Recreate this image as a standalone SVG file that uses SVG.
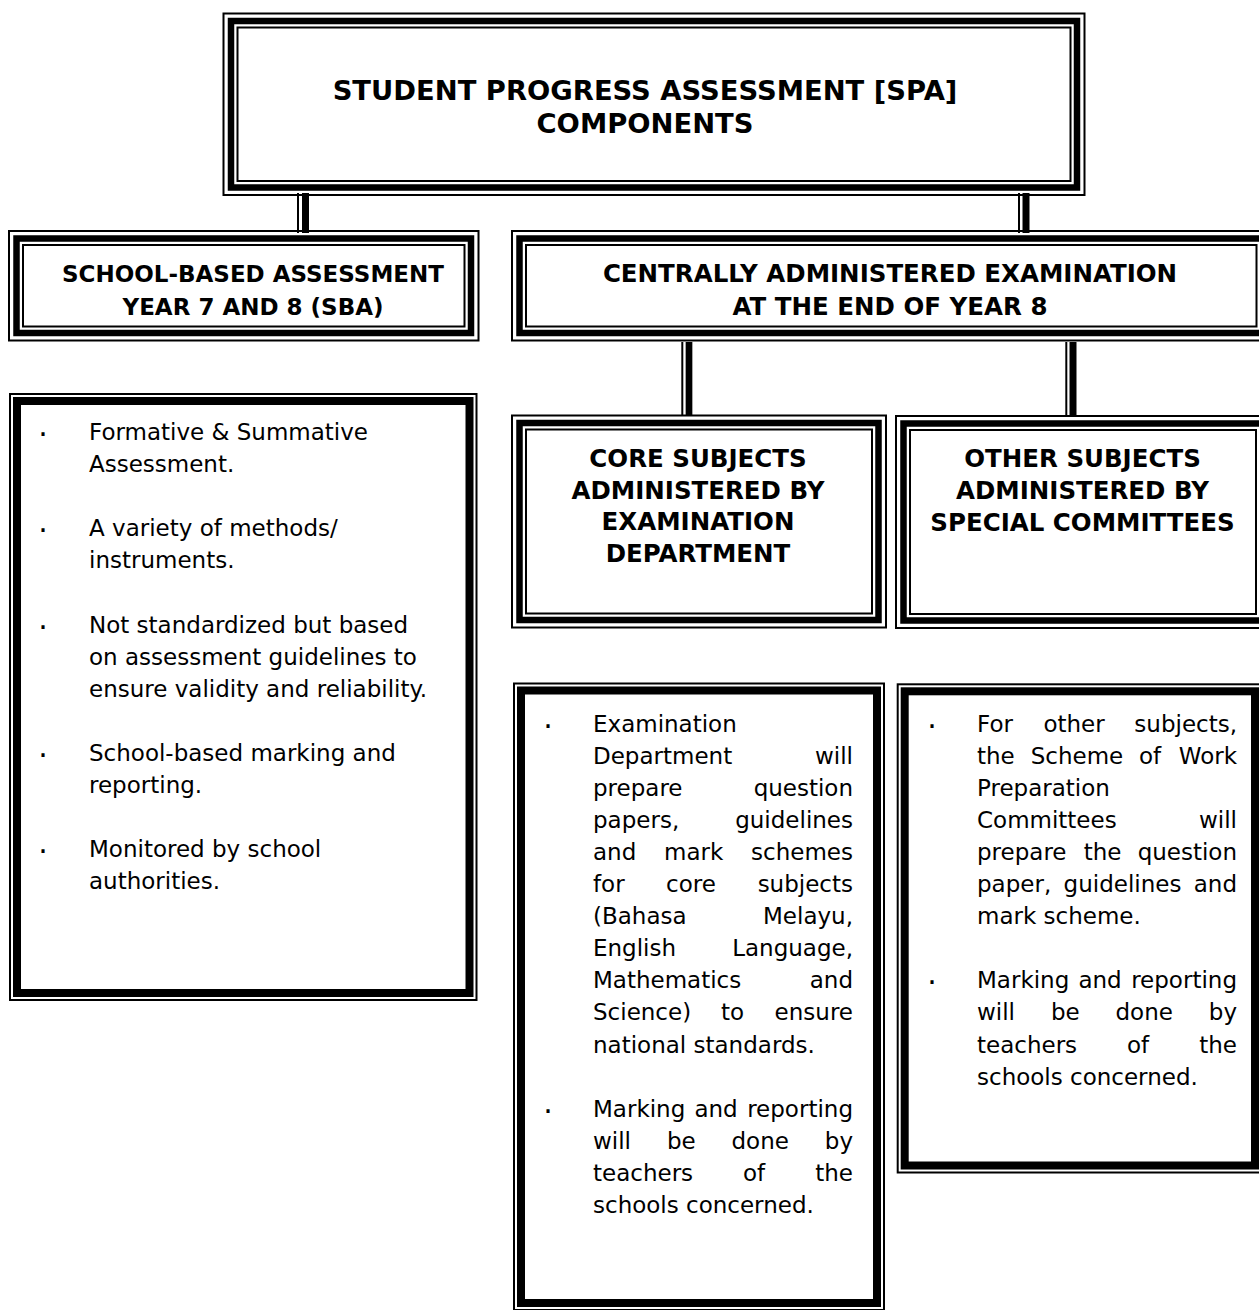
<svg xmlns="http://www.w3.org/2000/svg" width="1259" height="1310" viewBox="0 0 1259 1310">
<style>
.bg{fill:#fff}
.t1{fill:none;stroke:#000;stroke-width:2}
.tk{fill:none;stroke:#000;stroke-width:6.5}
.bk{fill:none;stroke:#000;stroke-width:8}
.cn{stroke:#000;fill:none}
.b{font-family:"DejaVu Sans",Verdana,sans-serif;font-size:23px;fill:#000}
.r{text-anchor:end}
.d{font-family:"DejaVu Sans",Verdana,sans-serif;font-size:30px;fill:#000;text-anchor:middle}
.h{font-family:"DejaVu Sans",Verdana,sans-serif;font-weight:bold;fill:#000;text-anchor:middle}
.h1{font-size:27.4px}
.h2a{font-size:23px}
.h2b{font-size:24.5px}
.h3{font-size:24.5px}
</style>
<rect class="bg" x="0" y="0" width="1259" height="1310"/>

<g id="connectors">
  <line class="cn" stroke-width="2" x1="298" y1="193" x2="298" y2="233"/>
  <line class="cn" stroke-width="7" x1="305.5" y1="193" x2="305.5" y2="233"/>
  <line class="cn" stroke-width="2" x1="1019" y1="193" x2="1019" y2="233"/>
  <line class="cn" stroke-width="7" x1="1026" y1="193" x2="1026" y2="233"/>
  <line class="cn" stroke-width="2" x1="682.3" y1="342" x2="682.3" y2="416"/>
  <line class="cn" stroke-width="6.7" x1="689" y1="342" x2="689" y2="416"/>
  <line class="cn" stroke-width="2" x1="1066.3" y1="342" x2="1066.3" y2="416"/>
  <line class="cn" stroke-width="7" x1="1073" y1="342" x2="1073" y2="416"/>
</g>

<g id="spa">
  <rect class="t1" x="223.5" y="13.5" width="861" height="181.5"/>
  <rect class="tk" x="231" y="21" width="846" height="166.5"/>
  <rect class="t1" x="237.5" y="27.5" width="833" height="153.5"/>
  <text class="h h1" x="645" y="100">STUDENT PROGRESS ASSESSMENT [SPA]</text>
  <text class="h h1" x="645" y="133">COMPONENTS</text>
</g>

<g id="sba">
  <rect class="t1" x="9" y="231" width="469.5" height="109.5"/>
  <rect class="tk" x="16.5" y="238.5" width="454.5" height="94.5"/>
  <rect class="t1" x="23" y="245" width="441.5" height="81.5"/>
  <text class="h h2a" x="253" y="282">SCHOOL-BASED ASSESSMENT</text>
  <text class="h h2a" x="253" y="315">YEAR 7 AND 8 (SBA)</text>
</g>

<g id="cae">
  <rect class="t1" x="512" y="231" width="758.5" height="109.5"/>
  <rect class="tk" x="519.5" y="238.5" width="743.5" height="94.5"/>
  <rect class="t1" x="526" y="245" width="730.5" height="81.5"/>
  <text class="h h2b" x="890" y="282">CENTRALLY ADMINISTERED EXAMINATION</text>
  <text class="h h2b" x="890" y="315">AT THE END OF YEAR 8</text>
</g>

<g id="core">
  <rect class="t1" x="512" y="415.5" width="374" height="212"/>
  <rect class="tk" x="519.5" y="423" width="359" height="197"/>
  <rect class="t1" x="526" y="429.5" width="346" height="184"/>
  <text class="h h3" x="698" y="466.7">CORE SUBJECTS</text>
  <text class="h h3" x="698" y="498.5">ADMINISTERED BY</text>
  <text class="h h3" x="698" y="530.3">EXAMINATION</text>
  <text class="h h3" x="698" y="562">DEPARTMENT</text>
</g>

<g id="other">
  <rect class="t1" x="896" y="416" width="374" height="212"/>
  <rect class="tk" x="903.5" y="423.5" width="359" height="197"/>
  <rect class="t1" x="910" y="430" width="346" height="184"/>
  <text class="h h3" x="1082.5" y="466.7">OTHER SUBJECTS</text>
  <text class="h h3" x="1082.5" y="498.7">ADMINISTERED BY</text>
  <text class="h h3" x="1082.5" y="530.7">SPECIAL COMMITTEES</text>
</g>

<g id="sba-details">
  <rect class="t1" x="10" y="394" width="466.5" height="606"/>
  <rect class="bk" x="17" y="401" width="452.5" height="592"/>
  <text class="d" x="43" y="445">·</text>
  <text class="b" x="89" y="440">Formative &amp; Summative</text>
  <text class="b" x="89" y="472.1">Assessment.</text>
  <text class="d" x="43" y="541.3">·</text>
  <text class="b" x="89" y="536.3">A variety of methods/</text>
  <text class="b" x="89" y="568.4">instruments.</text>
  <text class="d" x="43" y="637.6">·</text>
  <text class="b" x="89" y="632.6">Not standardized but based</text>
  <text class="b" x="89" y="664.7">on assessment guidelines to</text>
  <text class="b" x="89" y="696.8">ensure validity and reliability.</text>
  <text class="d" x="43" y="766">·</text>
  <text class="b" x="89" y="761">School-based marking and</text>
  <text class="b" x="89" y="793.1">reporting.</text>
  <text class="d" x="43" y="862.3">·</text>
  <text class="b" x="89" y="857.3">Monitored by school</text>
  <text class="b" x="89" y="889.4">authorities.</text>
</g>

<g id="core-details">
  <rect class="t1" x="514" y="683.5" width="370" height="626.5"/>
  <rect class="bk" x="521" y="690.5" width="356" height="612.5"/>
  <text class="d" x="548" y="736.5">·</text>
  <text class="b" x="593" y="731.5">Examination</text>
  <text class="b" x="593" y="763.6">Department</text><text class="b r" x="853" y="763.6">will</text>
  <text class="b" x="593" y="795.7">prepare</text><text class="b r" x="853" y="795.7">question</text>
  <text class="b" x="593" y="827.8">papers,</text><text class="b r" x="853" y="827.8">guidelines</text>
  <text class="b" x="593" y="859.9">and</text><text class="b" x="664" y="859.9">mark</text><text class="b r" x="853" y="859.9">schemes</text>
  <text class="b" x="593" y="892">for</text><text class="b" x="666" y="892">core</text><text class="b r" x="853" y="892">subjects</text>
  <text class="b" x="593" y="924.1">(Bahasa</text><text class="b r" x="853" y="924.1">Melayu,</text>
  <text class="b" x="593" y="956.2">English</text><text class="b r" x="853" y="956.2">Language,</text>
  <text class="b" x="593" y="988.3">Mathematics</text><text class="b r" x="853" y="988.3">and</text>
  <text class="b" x="593" y="1020.4">Science)</text><text class="b" x="721" y="1020.4">to</text><text class="b r" x="853" y="1020.4">ensure</text>
  <text class="b" x="593" y="1052.5">national standards.</text>
  <text class="d" x="548" y="1121.7">·</text>
  <text class="b" x="593" y="1116.7">Marking</text><text class="b" x="694.4" y="1116.7">and</text><text class="b r" x="853" y="1116.7">reporting</text>
  <text class="b" x="593" y="1148.8">will</text><text class="b" x="667" y="1148.8">be</text><text class="b" x="731.5" y="1148.8">done</text><text class="b r" x="853" y="1148.8">by</text>
  <text class="b" x="593" y="1180.9">teachers</text><text class="b" x="743" y="1180.9">of</text><text class="b r" x="853" y="1180.9">the</text>
  <text class="b" x="593" y="1213">schools concerned.</text>
</g>

<g id="other-details">
  <rect class="t1" x="897.7" y="684.3" width="364.3" height="488.2"/>
  <rect class="bk" x="904.7" y="691.3" width="350.3" height="474.2"/>
  <text class="d" x="932" y="736.5">·</text>
  <text class="b" x="977" y="731.5">For</text><text class="b" x="1043.4" y="731.5">other</text><text class="b r" x="1237" y="731.5">subjects,</text>
  <text class="b" x="977" y="763.6">the</text><text class="b" x="1030.7" y="763.6">Scheme</text><text class="b" x="1139" y="763.6">of</text><text class="b r" x="1237" y="763.6">Work</text>
  <text class="b" x="977" y="795.7">Preparation</text>
  <text class="b" x="977" y="827.8">Committees</text><text class="b r" x="1237" y="827.8">will</text>
  <text class="b" x="977" y="859.9">prepare</text><text class="b" x="1083.7" y="859.9">the</text><text class="b r" x="1237" y="859.9">question</text>
  <text class="b" x="977" y="892">paper,</text><text class="b" x="1063.6" y="892">guidelines</text><text class="b r" x="1237" y="892">and</text>
  <text class="b" x="977" y="924.1">mark scheme.</text>
  <text class="d" x="932" y="993.3">·</text>
  <text class="b" x="977" y="988.3">Marking</text><text class="b" x="1078.4" y="988.3">and</text><text class="b r" x="1237" y="988.3">reporting</text>
  <text class="b" x="977" y="1020.4">will</text><text class="b" x="1051" y="1020.4">be</text><text class="b" x="1115.5" y="1020.4">done</text><text class="b r" x="1237" y="1020.4">by</text>
  <text class="b" x="977" y="1052.5">teachers</text><text class="b" x="1127" y="1052.5">of</text><text class="b r" x="1237" y="1052.5">the</text>
  <text class="b" x="977" y="1084.6">schools concerned.</text>
</g>
</svg>
